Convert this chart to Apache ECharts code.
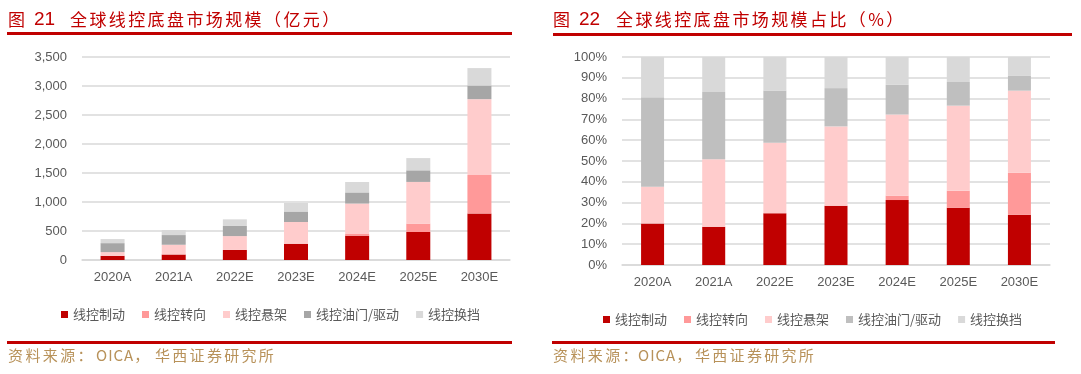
<!DOCTYPE html>
<html><head><meta charset="utf-8">
<script src="https://cdn.jsdelivr.net/npm/echarts@6/dist/echarts.min.js"></script>
<style>html,body{margin:0;padding:0;background:#fff}#c{width:1081px;height:374px}</style>
</head><body><div id="c"></div>
<script>
const categories = ['2020A','2021A','2022E','2023E','2024E','2025E','2030E'];
const seriesNames = ['线控制动','线控转向','线控悬架','线控油门/驱动','线控换挡'];
const brake      = [72, 95, 174, 280, 420, 483, 801];
const steering   = [0, 0, 0, 0, 28, 144, 665];
const suspension = [64, 168, 238, 375, 525, 719, 1307];
const throttle   = [155, 167, 175, 181, 192, 200, 235];
const shift      = [70, 87, 114, 147, 180, 211, 301];
const leftTicks = {min: 0, max: 3500, interval: 500};
const rightTicks = {min: 0, max: 100, interval: 10};
const leftTitle = ['图', '21', '全球线控底盘市场规模（亿元）'];
const rightTitle = ['图', '22', '全球线控底盘市场规模占比（%）'];
const sourceParts = ['资料来源：', 'OICA，', '华西证券研究所'];

const valueSets = [brake, steering, suspension, throttle, shift];
const totals = categories.map((_, i) => valueSets.reduce((s, a) => s + a[i], 0));
const pctSets = valueSets.map(a => a.map((v, i) => +(v / totals[i] * 100).toFixed(2)));

const leftColors = ['#C00000','#FF9999','#FFCCCC','#A6A6A6','#D9D9D9'];
const rightColors = ['#C00000','#FF9999','#FFCCCC','#BFBFBF','#D9D9D9'];
const RED = '#C00000';
const GOLD = '#B8925A';
const CJK = '"Noto Sans CJK SC", sans-serif';
const LAT = '"Liberation Sans", Arial, sans-serif';

const mctx = document.createElement('canvas').getContext('2d');
function spaced(str, x, y, size, family, color, spacing, weight) {
  const font = (weight || 'normal') + ' ' + size + 'px ' + family;
  mctx.font = font;
  const out = [];
  let cx = x;
  for (const ch of str) {
    out.push({type: 'text', x: cx, y: y, silent: true,
      style: {text: ch, font: font, fill: color, textVerticalAlign: 'middle', verticalAlign: 'middle'}});
    cx += mctx.measureText(ch).width + spacing;
  }
  return out;
}

const chart = echarts.init(document.getElementById('c'), null, {renderer: 'canvas'});

function xAxis(gi) {
  return {
    type: 'category', gridIndex: gi, data: categories,
    axisLine: {lineStyle: {color: '#D9D9D9', width: 1.5}},
    axisTick: {show: false},
    axisLabel: {color: '#595959', fontSize: 13, fontFamily: LAT, margin: 11}
  };
}
function yAxis(gi, t, fmt) {
  return {
    type: 'value', gridIndex: gi, min: t.min, max: t.max, interval: t.interval,
    axisLine: {show: false}, axisTick: {show: false},
    splitLine: {lineStyle: {color: '#D9D9D9', width: 1.5}},
    axisLabel: {color: '#595959', fontSize: 13, fontFamily: LAT, margin: 15, formatter: fmt}
  };
}

const series = [];
seriesNames.forEach((n, k) => {
  series.push({
    name: n, type: 'bar', stack: 'L', xAxisIndex: 0, yAxisIndex: 0,
    barWidth: 24, data: valueSets[k], itemStyle: {color: leftColors[k]}
  });
});
seriesNames.forEach((n, k) => {
  series.push({
    name: n, type: 'bar', stack: 'R', xAxisIndex: 1, yAxisIndex: 1,
    barWidth: 23, data: pctSets[k], itemStyle: {color: rightColors[k]}
  });
});

function legend(left, top, colors) {
  return {
    left: left, top: top, itemWidth: 7, itemHeight: 7, itemGap: 17, icon: 'rect',
    selectedMode: false,
    textStyle: {color: '#595959', fontSize: 13, fontFamily: CJK},
    data: seriesNames.map((n, k) => ({name: n, itemStyle: {color: colors[k]}}))
  };
}

function titleBlock(parts, x0, xNum, xText) {
  return [].concat(
    spaced(parts[0], x0, 20, 17, CJK, RED, 0),
    spaced(parts[1], xNum, 20, 19, LAT, RED, 0),
    spaced(parts[2], xText, 20, 17, CJK, RED, 2.4)
  );
}
function sourceBlock(x0, xO, xH) {
  return [].concat(
    spaced(sourceParts[0], x0, 355, 15, CJK, GOLD, 2.4),
    spaced(sourceParts[1], xO, 355, 15, CJK, GOLD, 1),
    spaced(sourceParts[2], xH, 355, 15, CJK, GOLD, 2.3)
  );
}

chart.setOption({
  animation: false,
  grid: [
    {left: 82, right: 571, top: 57, bottom: 114},
    {left: 622, right: 31, top: 57, bottom: 109}
  ],
  xAxis: [xAxis(0), xAxis(1)],
  yAxis: [
    yAxis(0, leftTicks, v => v.toLocaleString('en-US')),
    yAxis(1, rightTicks, '{value}%')
  ],
  legend: [legend(56, 303, leftColors), legend(598, 308, rightColors)],
  series: series,
  graphic: [
    {type: 'rect', shape: {x: 7, y: 32, width: 505, height: 3}, style: {fill: RED}},
    {type: 'rect', shape: {x: 553, y: 33, width: 519, height: 3}, style: {fill: RED}},
    {type: 'rect', shape: {x: 7, y: 341, width: 505, height: 3}, style: {fill: RED}},
    {type: 'rect', shape: {x: 552, y: 341, width: 503, height: 3}, style: {fill: RED}}
  ].concat(
    titleBlock(leftTitle, 8, 34, 70),
    titleBlock(rightTitle, 553, 579, 616),
    sourceBlock(8, 96, 155),
    sourceBlock(553, 638, 695)
  )
});
</script></body></html>
